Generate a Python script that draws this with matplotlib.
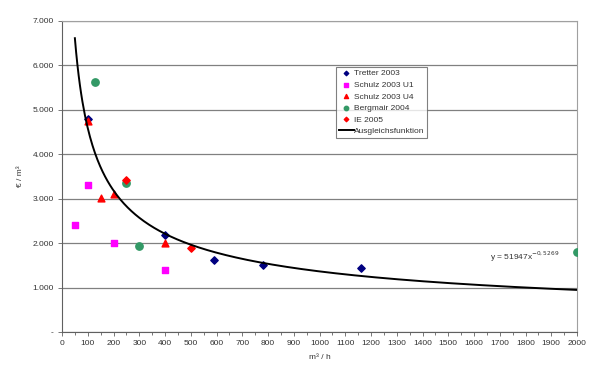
import numpy as np
import matplotlib.pyplot as plt
from matplotlib.ticker import FuncFormatter, MultipleLocator

plt.rcParams['font.family'] = ['Liberation Sans', 'DejaVu Sans']

# Daten
tretter_x = [100, 400, 590, 780, 1160]
tretter_y = [4800, 2180, 1610, 1500, 1430]
schulz_u1_x = [50, 100, 200, 400]
schulz_u1_y = [2400, 3300, 2010, 1390]
schulz_u4_x = [100, 150, 200, 400]
schulz_u4_y = [4760, 3020, 3100, 2000]
bergmair_x = [130, 250, 300, 2000]
bergmair_y = [5620, 3360, 1930, 1800]
ie_x = [250, 500]
ie_y = [3430, 1880]

fit_a = 51947
fit_b = -0.5269

fs = 6

fig = plt.figure(figsize=(6, 3.69), dpi=100)
ax = fig.add_axes([62 / 600, 1 - 332 / 369, (577 - 62) / 600, (332 - 21) / 369])

ax.scatter(tretter_x, tretter_y, marker='D', s=14, color='#000080', zorder=3, label='Tretter 2003')
ax.scatter(schulz_u1_x, schulz_u1_y, marker='s', s=22, color='#FF00FF', zorder=3, label='Schulz 2003 U1')
ax.scatter(schulz_u4_x, schulz_u4_y, marker='^', s=24, color='#FF0000', zorder=3, label='Schulz 2003 U4')
ax.scatter(bergmair_x, bergmair_y, marker='o', s=28, color='#339966', zorder=3, label='Bergmair 2004')
ax.scatter(ie_x, ie_y, marker='D', s=14, color='#FF0000', zorder=3, label='IE 2005')

xs = np.linspace(50, 2000, 400)
ax.plot(xs, fit_a * xs ** fit_b, color='black', lw=1.4, zorder=4, label='Ausgleichsfunktion')

ax.text(1662, 1700, 'y = 51947x$^{-0,5269}$', fontsize=fs, color='#333333', ha='left', va='center')

ax.set_xlim(0, 2000)
ax.set_ylim(0, 7000)
ax.xaxis.set_major_locator(MultipleLocator(100))
ax.xaxis.set_minor_locator(MultipleLocator(50))
ax.yaxis.set_major_locator(MultipleLocator(1000))
ax.yaxis.set_major_formatter(FuncFormatter(lambda v, p: '-' if v == 0 else f'{int(v):,}'.replace(',', '.')))
ax.grid(axis='y', color='#808080', lw=0.9)
ax.set_axisbelow(True)

for s in ['top', 'right']:
    ax.spines[s].set_color('#a0a0a0')
for s in ['left', 'bottom']:
    ax.spines[s].set_color('#606060')
ax.tick_params(axis='both', which='both', direction='out', length=3, width=0.6, color='#606060',
               labelsize=fs, labelcolor='#333333', pad=3)
ax.tick_params(axis='x', which='minor', length=2)

ax.set_xlabel('m³ / h', fontsize=fs, color='#333333', labelpad=5)
ax.set_ylabel('€ / m³', fontsize=fs, color='#333333', labelpad=6)

leg = ax.legend(loc='upper left', bbox_to_anchor=((336 - 62) / 515, (332 - 67) / 311), fontsize=fs,
                frameon=True, fancybox=False, edgecolor='#606060', borderpad=0.3, labelspacing=0.45,
                handlelength=1.8, handletextpad=0.1, borderaxespad=0, scatterpoints=1, markerscale=0.6)
leg.get_frame().set_linewidth(0.8)
for t in leg.get_texts():
    t.set_color('#333333')

fig.savefig('out.png', dpi=100)
